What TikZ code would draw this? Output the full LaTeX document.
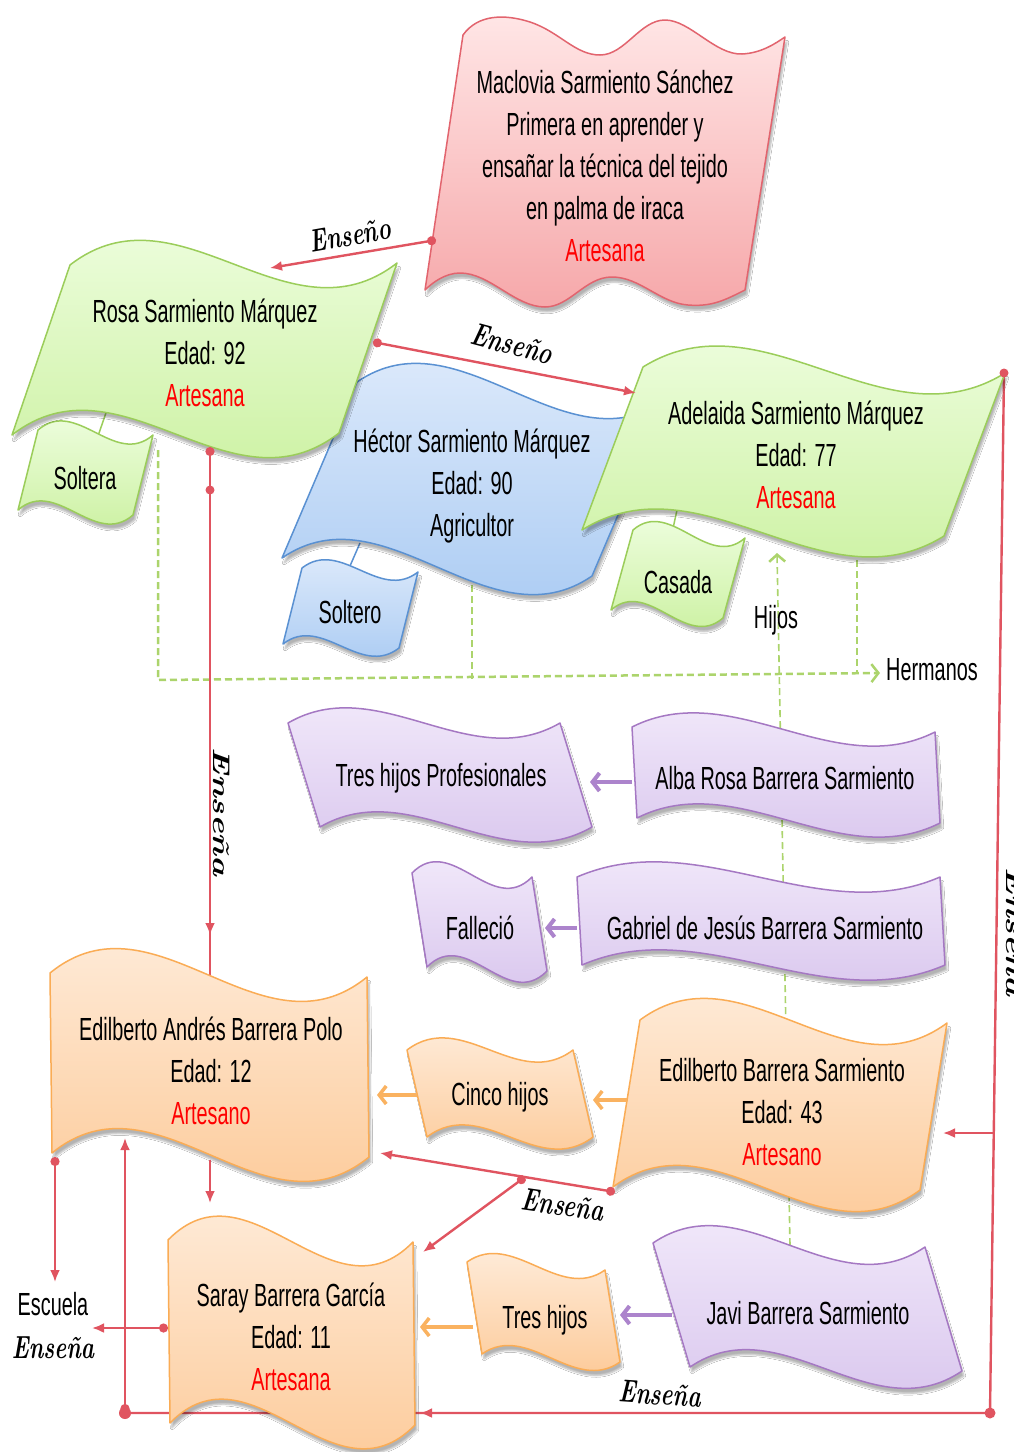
\documentclass[tikz,border=0pt]{standalone}
\usepackage{fontspec}
\usetikzlibrary{arrows.meta,shadows.blur}

\newfontfamily\flagfont[FakeStretch=0.62]{Liberation Sans}
\newfontfamily\handfont[FakeStretch=0.7]{lmroman10-bolditalic.otf}

\definecolor{enseRed}{RGB}{224,84,96}
\definecolor{artRed}{RGB}{255,0,0}
\definecolor{kinGreen}{RGB}{172,212,108}
\definecolor{kidPurple}{RGB}{172,132,204}
\definecolor{kidOrange}{RGB}{250,178,96}
\definecolor{gFlagTop}{RGB}{242,255,230}
\definecolor{gFlagBot}{RGB}{200,240,155}
\definecolor{gFlagLine}{RGB}{155,205,90}
\definecolor{bFlagTop}{RGB}{228,238,252}
\definecolor{bFlagBot}{RGB}{165,200,242}
\definecolor{bFlagLine}{RGB}{90,145,210}
\definecolor{pFlagTop}{RGB}{255,230,230}
\definecolor{pFlagBot}{RGB}{246,168,170}
\definecolor{pFlagLine}{RGB}{226,100,110}
\definecolor{vFlagTop}{RGB}{245,238,252}
\definecolor{vFlagBot}{RGB}{214,194,236}
\definecolor{vFlagLine}{RGB}{165,120,195}
\definecolor{oFlagTop}{RGB}{255,240,226}
\definecolor{oFlagBot}{RGB}{252,198,145}
\definecolor{oFlagLine}{RGB}{250,172,85}

\tikzset{
  txt/.style={font=\flagfont\fontsize{32}{42}\selectfont, align=center, inner sep=0pt},
  hand/.style={font=\handfont\fontsize{32}{32}\selectfont, inner sep=0pt},
  flagshadow/.style={blur shadow={shadow xshift=2pt, shadow yshift=-5pt, shadow opacity=30, shadow blur steps=6}},
  greenflag/.style={flagshadow, draw=gFlagLine, line width=1.5pt, top color=gFlagTop, bottom color=gFlagBot},
  blueflag/.style={flagshadow, draw=bFlagLine, line width=1.5pt, top color=bFlagTop, bottom color=bFlagBot},
  pinkflag/.style={flagshadow, draw=pFlagLine, line width=1.5pt, top color=pFlagTop, bottom color=pFlagBot},
  purpleflag/.style={flagshadow, draw=vFlagLine, line width=1.5pt, top color=vFlagTop, bottom color=vFlagBot},
  orangeflag/.style={flagshadow, draw=oFlagLine, line width=1.5pt, top color=oFlagTop, bottom color=oFlagBot},
  ens/.style={draw=enseRed, line width=2.4pt},
  dotstart/.style={{Circle[length=9pt]}-{Latex[length=12pt,width=10pt]}},
  kin/.style={draw=kinGreen, line width=2.5pt, dash pattern=on 7pt off 4pt},
  kidarrow/.style={draw=kidPurple, line width=4pt, -{Straight Barb[length=7pt,width=18pt]}},
  orangearrow/.style={draw=kidOrange, line width=3.5pt, -{Straight Barb[length=7pt,width=18pt]}}
}

% wave flag: style, x, y, width, height, slant, amplitude, rise
\newcommand\flag[8]{%
  \path[#1] (#2,#3) .. controls ({#2+#4/3},{#3+#8/3-3.5*#7}) and ({#2+2*#4/3},{#3+2*#8/3+3.5*#7}) .. ({#2+#4},{#3+#8})
    -- ({#2+#4+#6},{#3+#8+#5}) .. controls ({#2+2*#4/3+#6},{#3+2*#8/3+3.5*#7+#5}) and ({#2+#4/3+#6},{#3+#8/3-3.5*#7+#5}) .. ({#2+#6},{#3+#5}) -- cycle;}

\begin{document}
\begin{tikzpicture}[x=1pt,y=-1pt,line join=round]
    \fill[white] (0,0) rectangle (1014,1452);
    \useasboundingbox (0,0) rectangle (1014,1452);

    % ends of the connectors
    \coordinate (macW) at (436,240);
    \coordinate (rosaN) at (270,268);
    \coordinate (rosaE) at (373,342);
    \coordinate (adelW) at (636,393);
    \coordinate (rosaS) at (210,447);
    \coordinate (rosaDot) at (210,490);
    \coordinate (edaTip) at (210,935);
    \coordinate (edaN) at (210,975);
    \coordinate (edaS) at (210,1160);
    \coordinate (sarayN) at (210,1203);
    \coordinate (edaSW) at (55,1157);
    \coordinate (escN) at (55,1282);
    \coordinate (sarayW) at (168,1328);
    \coordinate (escE) at (92,1328);
    \coordinate (botL) at (125,1413);
    \coordinate (edaB) at (125,1138);
    \coordinate (botR) at (990,1413);
    \coordinate (sarayE) at (420,1413);
    \coordinate (adelNE) at (1004,373);
    \coordinate (rightMid) at (994,1133);
    \coordinate (edsE) at (943,1133);
    \coordinate (edsSW) at (615,1192);
    \coordinate (edaSE) at (380,1153);
    \coordinate (ensMid) at (525,1177);
    \coordinate (sarayNE) at (423,1252);

    \coordinate (albaW) at (632,782);
    \coordinate (profE) at (590,782);
    \coordinate (gabW) at (577,928);
    \coordinate (fallE) at (545,928);
    \coordinate (javiW) at (672,1315);
    \coordinate (tresE) at (620,1315);
    \coordinate (edsW) at (627,1100);
    \coordinate (cincoE) at (593,1100);
    \coordinate (cincoW) at (417,1095);
    \coordinate (edaE) at (377,1095);
    \coordinate (tresW) at (473,1327);
    \coordinate (sarayE2) at (420,1327);

    \coordinate (rosaSd) at (158,450);
    \coordinate (kinL) at (158,680);
    \coordinate (kinR) at (880,673);
    \coordinate (hecS) at (472,585);
    \coordinate (hecK) at (472,679);
    \coordinate (adelS) at (857,560);
    \coordinate (adelK) at (857,674);
    \coordinate (hijosB) at (790,1245);
    \coordinate (hijosT) at (777,553);
    \coordinate (rosaB) at (107,410);
    \coordinate (solteraT) at (98,436);
    \coordinate (hecB) at (360,543);
    \coordinate (solteroT) at (350,566);
    \coordinate (adelB) at (677,510);
    \coordinate (casadaT) at (672,533);

    % lines behind the flags
    \draw[kin,-{Straight Barb[length=7pt,width=18pt]}] (rosaSd) -- (kinL) -- (kinR);
    \draw[kin] (hecS) -- (hecK);
    \draw[kin] (adelS) -- (adelK);
    \draw[kin,line width=1.6pt,-{Straight Barb[length=7pt,width=16pt,line width=2.5pt]}] (hijosB) -- (hijosT);
    \draw[ens] (rosaS) -- (edaN);
    \draw[ens] (adelNE) -- (botR) -- (botL);
    \draw[gFlagLine,line width=1.5pt] (rosaB) -- (solteraT);
    \draw[bFlagLine,line width=1.5pt] (hecB) -- (solteroT);
    \draw[gFlagLine,line width=1.5pt] (adelB) -- (casadaT);

    % flags
    \path[pinkflag] (463,35) .. controls (478,14) and (505,14) .. (530,22)
        .. controls (560,32) and (575,55) .. (600,55) .. controls (625,55) and (640,20) .. (665,20)
        .. controls (690,20) and (715,55) .. (742,54) .. controls (762,53) and (776,43) .. (785,37)
        -- (745,290) .. controls (725,300) and (712,307) .. (688,305) .. controls (660,303) and (640,277) .. (612,277)
        .. controls (585,277) and (570,307) .. (545,307) .. controls (515,307) and (490,273) .. (460,273)
        .. controls (445,273) and (432,283) .. (425,290) -- cycle;
    \flag{greenflag}{38}{430}{115}{80}{-20}{10}{5}
    \flag{blueflag}{302}{568}{116}{76}{-19}{9}{4}
    \flag{blueflag}{357}{382}{310}{176}{-75}{22}{18}
    \flag{greenflag}{70}{265}{327}{170}{-58}{24}{-2}
    \flag{greenflag}{633}{530}{112}{80}{-22}{10}{8}
    \flag{greenflag}{643}{367}{362}{163}{-61}{22}{6}
    \flag{purpleflag}{288}{723}{272}{104}{32}{15}{0}
    \flag{purpleflag}{632}{727}{303}{91}{5}{15}{5}
    \flag{purpleflag}{412}{873}{120}{94}{15}{12}{4}
    \flag{purpleflag}{577}{877}{363}{88}{5}{15}{0}
    \flag{orangeflag}{407}{1050}{166}{87}{20}{12}{0}
    \flag{orangeflag}{640}{1020}{307}{167}{-27}{22}{3}
    \flag{orangeflag}{50}{973}{317}{180}{2}{25}{4}
    \flag{orangeflag}{467}{1262}{138}{92}{15}{10}{8}
    \flag{purpleflag}{653}{1243}{272}{124}{37}{18}{4}
    \flag{orangeflag}{168}{1240}{245}{183}{2}{24}{2}

    % texts
    \node[txt] (maclovia) at (605,166) {Maclovia Sarmiento Sánchez\\Primera en aprender y\\ensañar la técnica del tejido\\en palma de iraca\\\textcolor{artRed}{Artesana}};
    \node[txt] (rosa) at (205,353) {Rosa Sarmiento Márquez\\Edad: 92\\\textcolor{artRed}{Artesana}};
    \node[txt] (soltera) at (85,478) {Soltera};
    \node[txt] (hector) at (472,486) {Héctor Sarmiento Márquez\\Edad: 90\\Agricultor};
    \node[txt] (soltero) at (350,612) {Soltero};
    \node[txt] (adelaida) at (796,455) {Adelaida Sarmiento Márquez\\Edad: 77\\\textcolor{artRed}{Artesana}};
    \node[txt] (casada) at (678,582) {Casada};
    \node[txt] (hijos) at (776,620) {Hijos};
    \node[txt] (hermanos) at (932,670) {Hermanos};
    \node[txt] (tresprof) at (441,778) {Tres hijos Profesionales};
    \node[txt] (alba) at (785,778) {Alba Rosa Barrera Sarmiento};
    \node[txt] (fallecio) at (480,928) {Falleció};
    \node[txt] (gabriel) at (765,928) {Gabriel de Jesús Barrera Sarmiento};
    \node[txt] (edandres) at (211,1071) {Edilberto Andrés Barrera Polo\\Edad: 12\\\textcolor{artRed}{Artesano}};
    \node[txt] (cinco) at (500,1097) {Cinco hijos};
    \node[txt] (edsarm) at (782,1112) {Edilberto Barrera Sarmiento\\Edad: 43\\\textcolor{artRed}{Artesano}};
    \node[txt] (escuela) at (53,1304) {Escuela};
    \node[txt] (saray) at (291,1337) {Saray Barrera García\\Edad: 11\\\textcolor{artRed}{Artesana}};
    \node[txt] (treshijos) at (545,1320) {Tres hijos};
    \node[txt] (javi) at (808,1313) {Javi Barrera Sarmiento};

    \node[hand,rotate=10] (ensA) at (350,235) {Enseño};
    \node[hand,rotate=-15] (ensB) at (512,344) {Enseño};
    \node[hand,rotate=-90] (ensC) at (222,812) {\fontsize{24}{24}\selectfont\scalebox{2.1}[1]{Enseña}};
    \node[hand] (ensD) at (53,1348) {Enseña};
    \node[hand,rotate=-8] (ensE) at (563,1205) {Enseña};
    \node[hand,rotate=-4] (ensF) at (660,1394) {Enseña};
    \node[hand,rotate=-90] (ensG) at (1015,932) {\fontsize{24}{24}\selectfont\scalebox{2.1}[1]{Enseña}};

    % connectors on top
    \draw[ens,dotstart] (macW) -- (rosaN);
    \draw[ens,dotstart] (rosaE) -- (adelW);
    \draw[ens,dotstart] (rosaS) -- (edaTip);
    \fill[enseRed] (rosaDot) circle (4.5pt);
    \draw[ens,-{Latex[length=12pt,width=10pt]}] (edaS) -- (sarayN);
    \draw[ens,dotstart] (edaSW) -- (escN);
    \draw[ens,dotstart] (sarayW) -- (escE);
    \draw[ens,dotstart] (botL) -- (edaB);
    \fill[enseRed] (botL) circle (6pt);
    \draw[ens,-{Latex[length=12pt,width=10pt]}] (botR) -- (sarayE);
    \fill[enseRed] (botR) circle (5.5pt);
    \fill[enseRed] (adelNE) circle (4.5pt);
    \draw[ens,-{Latex[length=12pt,width=10pt]}] (rightMid) -- (edsE);
    \draw[ens,dotstart] (edsSW) -- (edaSE);
    \draw[ens,dotstart] (ensMid) -- (sarayNE);

    \draw[kidarrow] (albaW) -- (profE);
    \draw[kidarrow] (gabW) -- (fallE);
    \draw[kidarrow] (javiW) -- (tresE);
    \draw[orangearrow] (edsW) -- (cincoE);
    \draw[orangearrow] (cincoW) -- (edaE);
    \draw[orangearrow] (tresW) -- (sarayE2);

\end{tikzpicture}
\end{document}
